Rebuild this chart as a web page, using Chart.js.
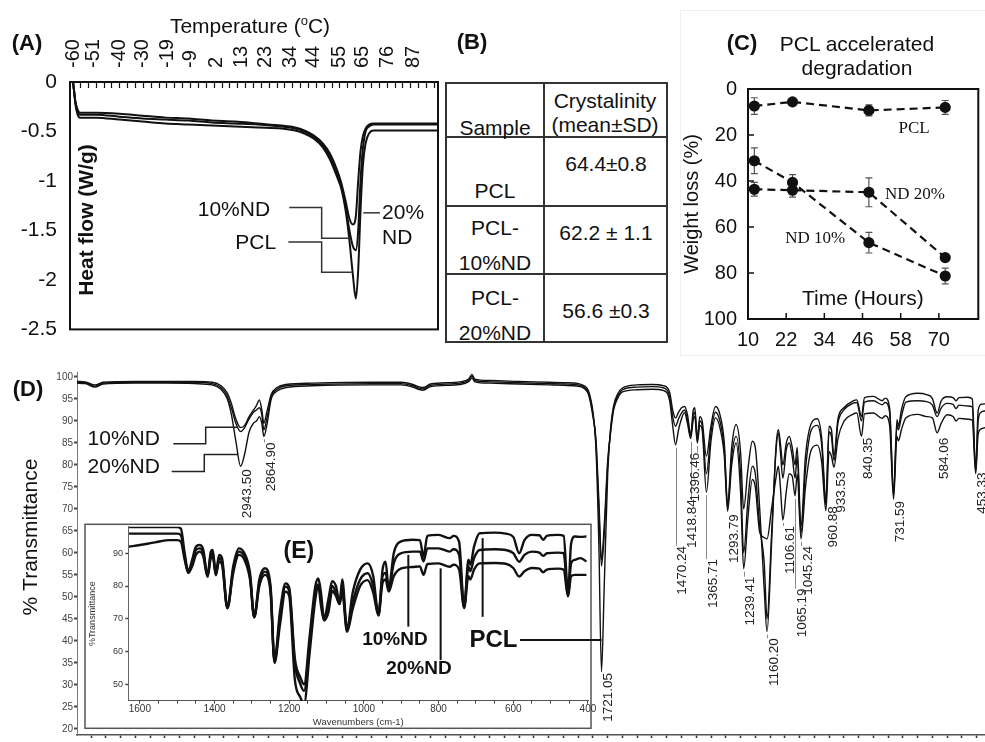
<!DOCTYPE html>
<html>
<head>
<meta charset="utf-8">
<title>PCL / ND characterisation</title>
<script src="https://cdn.jsdelivr.net/npm/chart.js@4.4.1/dist/chart.umd.min.js"></script>
<style>
  html, body { margin: 0; padding: 0; background: #fff; }
  body { position: relative; width: 985px; height: 742px; overflow: hidden;
         font-family: "Liberation Sans", Arial, sans-serif; color: #111; }
  canvas { position: absolute; }
  .lbl { position: absolute; white-space: nowrap; line-height: 1; transform: translate(-50%, -50%); }
  .rule { position: absolute; background: #333; }
</style>
</head>
<body>
<div style="position:absolute;left:680px;top:10px;width:304px;height:344px;border:1px solid #f0f0f0;"></div>
<canvas id="chartA" width="445" height="355" style="left:0;top:0"></canvas>
<canvas id="chartC" width="305" height="356" style="left:680px;top:0"></canvas>
<canvas id="chartD" width="985" height="386" style="left:0;top:356px"></canvas>
<canvas id="chartE" width="530" height="225" style="left:80px;top:515px"></canvas>
<script>
// (A) DSC heat flow
const tempC     = [-60, -59.5, -59, -58, -57, -55, -50, -40, -30, -20, -10, 0, 10, 20, 30, 36, 40, 44, 48, 51, 54, 56, 58, 59.5, 61, 62.3, 63.3, 64.3, 65.3, 66.5, 68, 70, 75, 85, 97.8];
const flowPCL   = [0, -0.1, -0.22, -0.33, -0.36, -0.36, -0.36, -0.38, -0.40, -0.42, -0.43, -0.44, -0.45, -0.46, -0.47, -0.49, -0.52, -0.57, -0.66, -0.78, -0.95, -1.08, -1.32, -1.6, -1.95, -2.19, -1.9, -1.3, -0.85, -0.62, -0.52, -0.49, -0.49, -0.49, -0.49];
const flowND10  = [0, -0.1, -0.2, -0.3, -0.33, -0.33, -0.33, -0.35, -0.37, -0.38, -0.39, -0.41, -0.42, -0.43, -0.45, -0.47, -0.50, -0.55, -0.64, -0.75, -0.92, -1.05, -1.28, -1.5, -1.66, -1.70, -1.5, -1.0, -0.68, -0.5, -0.45, -0.43, -0.43, -0.43, -0.43];
const flowND20  = [0, -0.1, -0.19, -0.28, -0.31, -0.31, -0.31, -0.32, -0.34, -0.36, -0.37, -0.39, -0.40, -0.42, -0.44, -0.46, -0.49, -0.54, -0.62, -0.72, -0.88, -1.02, -1.22, -1.38, -1.44, -1.35, -1.0, -0.7, -0.55, -0.47, -0.43, -0.42, -0.42, -0.42, -0.42];
const tempTicks = [-60, -51, -40, -30, -19, -9, 2, 13, 23, 34, 44, 55, 65, 76, 87];
const flowTicks = [0, -0.5, -1, -1.5, -2, -2.5];

// (B) crystallinity table
const samples     = [["PCL"], ["PCL-", "10%ND"], ["PCL-", "20%ND"]];
const crystalText = ["64.4\u00b10.8", "62.2 \u00b1 1.1", "56.6 \u00b10.3"];

// (C) accelerated degradation
const hours     = [12, 24, 48, 72];
const lossPCL   = [7.4, 5.6, 9.3, 8.0];
const errPCL    = [3.6, 1.0, 2.4, 3.0];
const lossND10  = [31.2, 40.6, 66.8, 81.3];
const errND10   = [5.6, 3.4, 4.5, 3.4];
const lossND20  = [43.6, 44.0, 44.9, 73.3];
const errND20   = [3.0, 3.0, 6.3, 1.2];
const hourTicks = [10, 22, 34, 46, 58, 70];
const lossTicks = [0, 20, 40, 60, 80, 100];

// (D) FTIR full range
const dWave = [3498, 3470, 3437, 3410, 3300, 3200, 3100, 3040, 3010, 2990,
  2975, 2960, 2943.5, 2930, 2915, 2900, 2890, 2880, 2872, 2864.9,
  2855, 2840, 2820, 2790, 2700, 2500, 2400, 2360, 2340, 2326,
  2300, 2200, 2170, 2160, 2150, 2100, 2000, 1900, 1850, 1800,
  1780, 1765, 1750, 1740, 1730, 1721.05, 1712, 1700, 1690, 1680,
  1665, 1650, 1600, 1550, 1510, 1490, 1480, 1470.24, 1460, 1450,
  1440, 1430, 1418.84, 1410, 1405, 1396.46, 1388, 1380, 1365.71, 1350,
  1335, 1320, 1305, 1293.79, 1280, 1265, 1250, 1239.41, 1225, 1210,
  1200, 1185, 1170, 1160.2, 1145, 1130, 1122, 1115, 1106.61, 1095,
  1085, 1075, 1065.19, 1058, 1045.24, 1030, 1010, 990, 975, 960.88,
  950, 942, 933.53, 920, 900, 870, 856, 840.35, 830, 800,
  770, 760, 745, 731.59, 720, 715, 705, 690, 650, 620,
  600, 584.06, 570, 550, 530, 520, 510, 480, 465, 453.33,
  445, 435, 420];
const dPCL = [99.0, 98.9, 98.2, 98.8, 99.0, 99.0, 99.0, 98.8, 98.0, 96.5,
  94.0, 90.5, 88.5, 89.0, 91.0, 92.5, 93.5, 94.8, 92.5, 89.5,
  92.0, 96.0, 97.6, 98.3, 98.6, 98.8, 98.8, 98.3, 97.8, 97.6,
  98.4, 98.9, 99.6, 100.6, 99.5, 99.2, 99.0, 98.8, 98.7, 98.5,
  98.0, 96.8, 92.0, 84.0, 62.0, 33.0, 52.0, 78.0, 88.5, 93.5,
  96.3, 97.5, 98.2, 98.3, 98.0, 96.5, 92.5, 90.7, 92.0, 93.0,
  93.3, 91.5, 87.0, 92.5, 93.0, 86.0, 91.0, 90.0, 82.0, 89.0,
  93.3, 91.5, 85.0, 71.0, 84.0, 89.2, 83.0, 70.0, 79.0, 85.4,
  84.0, 70.0, 52.0, 42.1, 62.0, 84.0, 88.0, 85.0, 80.0, 85.0,
  86.5, 84.0, 80.0, 84.0, 66.0, 82.0, 89.5, 90.5, 86.0, 72.0,
  88.8, 88.0, 82.0, 90.5, 93.0, 94.5, 94.8, 91.0, 95.3, 95.6,
  94.6, 95.2, 93.0, 74.0, 90.3, 88.8, 92.5, 95.5, 96.3, 96.0,
  95.1, 91.8, 94.6, 95.5, 95.3, 94.6, 95.3, 95.4, 95.0, 79.0,
  92.3, 93.8, 93.9];
const dND10 = [98.8, 98.7, 97.9, 98.6, 98.8, 98.8, 98.8, 98.5, 97.6, 95.8,
  93.0, 89.5, 87.6, 88.5, 90.5, 92.0, 92.5, 93.0, 91.5, 88.0,
  90.5, 95.5, 97.2, 98.0, 98.3, 98.5, 98.5, 98.0, 97.5, 97.3,
  98.1, 98.6, 99.3, 100.2, 99.2, 98.9, 98.7, 98.5, 98.4, 98.2,
  97.7, 96.4, 91.5, 85.0, 70.0, 57.0, 64.0, 80.0, 88.0, 93.0,
  95.8, 97.1, 97.7, 97.8, 97.5, 95.5, 91.0, 88.8, 90.5, 91.8,
  92.5, 90.5, 86.5, 91.5, 92.0, 85.5, 90.0, 89.0, 78.0, 87.5,
  92.0, 90.0, 83.5, 70.3, 82.0, 86.5, 78.0, 60.0, 72.0, 79.7,
  78.0, 66.0, 58.0, 45.0, 64.0, 83.0, 87.3, 83.0, 77.0, 83.5,
  85.0, 82.0, 77.0, 82.0, 64.5, 79.0, 88.0, 89.0, 84.5, 71.0,
  87.5, 86.5, 81.0, 89.5, 92.5, 94.0, 94.2, 90.0, 94.3, 94.6,
  93.7, 94.2, 92.0, 73.0, 89.0, 88.0, 91.0, 94.3, 94.6, 94.4,
  93.6, 91.0, 93.0, 94.0, 93.8, 92.8, 93.6, 93.4, 93.2, 78.5,
  90.0, 92.0, 92.3];
const dND20 = [98.6, 98.5, 97.7, 98.4, 98.6, 98.6, 98.5, 98.2, 97.2, 95.2,
  91.5, 85.5, 79.7, 82.5, 87.5, 89.5, 90.0, 91.0, 89.5, 86.5,
  89.0, 95.0, 96.8, 97.6, 98.0, 98.2, 98.2, 97.7, 97.2, 97.0,
  97.8, 98.3, 99.0, 99.8, 98.9, 98.6, 98.4, 98.2, 98.1, 97.9,
  97.4, 96.0, 91.0, 86.0, 72.0, 58.5, 66.0, 81.0, 87.5, 92.5,
  95.3, 96.6, 97.1, 97.2, 96.9, 94.5, 89.0, 84.6, 88.0, 90.5,
  91.9, 89.5, 86.0, 90.5, 91.0, 85.0, 89.0, 88.0, 73.8, 85.5,
  90.7, 88.5, 82.0, 69.5, 80.0, 85.0, 74.0, 56.4, 68.0, 76.7,
  75.0, 64.7, 63.5, 63.2, 70.0, 77.0, 79.7, 75.0, 67.5, 74.0,
  78.0, 77.5, 73.0, 78.0, 63.2, 75.0, 83.5, 84.5, 80.5, 69.6,
  83.0, 82.0, 79.5, 86.0, 89.9, 91.5, 91.8, 86.5, 91.6, 91.8,
  90.6, 91.2, 89.0, 72.2, 86.5, 85.5, 88.0, 90.7, 91.5, 91.0,
  90.7, 87.3, 89.5, 91.4, 91.0, 90.0, 90.6, 90.4, 90.2, 78.0,
  87.0, 88.2, 88.5];
const peakWave  = [2943.5, 2864.9, 1721.05, 1470.24, 1418.84, 1396.46, 1365.71, 1293.79, 1239.41, 1160.2, 1106.61, 1065.19, 1045.24, 960.88, 933.53, 840.35, 731.59, 584.06, 453.33];
const peakText  = ["2943.50", "2864.90", "1721.05", "1470.24", "1418.84", "1396.46", "1365.71", "1293.79", "1239.41", "1160.20", "1106.61", "1065.19", "1045.24", "960.88", "933.53", "840.35", "731.59", "584.06", "453.33"];
const peakLabelAt = [79.0, 85.1, 32.7, 61.6, 72.2, 82.8, 58.6, 68.8, 54.6, 40.6, 66.1, 51.9, 61.6, 70.6, 78.5, 86.2, 71.8, 86.2, 78.3];

// (E) FTIR fingerprint region (inset)
const eWave = [1629, 1600, 1560, 1520, 1500, 1490, 1480, 1470.24, 1460, 1450,
  1440, 1430, 1418.84, 1410, 1405, 1396.46, 1388, 1380, 1365.71, 1350,
  1335, 1320, 1305, 1293.79, 1280, 1265, 1250, 1239.41, 1225, 1210,
  1200, 1185, 1170, 1160.2, 1145, 1130, 1122, 1115, 1106.61, 1095,
  1085, 1075, 1065.19, 1058, 1045.24, 1030, 1010, 990, 975, 960.88,
  950, 942, 933.53, 920, 900, 870, 850, 840.35, 830, 800,
  770, 760, 745, 731.59, 720, 715, 705, 690, 650, 620,
  600, 584.06, 570, 550, 530, 520, 510, 480, 465, 453.33,
  445, 435, 420, 404];
const ePCL = [98, 98, 98, 98, 98, 97.5, 90, 84.5, 88, 92,
  92.5, 91, 83, 90.5, 91, 83.5, 89.5, 88.5, 73.5, 86,
  91.5, 90, 84, 70.6, 82, 85.4, 80, 57, 72, 80.8,
  79.5, 58, 52, 50, 65, 80, 82.3, 78, 70, 76,
  81.5, 80, 75, 82, 67, 78, 85, 86.9, 83, 71.5,
  85, 87.4, 79.3, 90, 93.6, 94.1, 94, 89, 95.3, 95.6,
  94.6, 95.3, 93.5, 73.7, 88, 86.5, 92, 96.1, 96.3, 96,
  95, 90, 94, 95.6, 95.5, 94.1, 95.3, 95.6, 95.3, 78,
  93, 95.1, 95, 95.1];
const eND10 = [96, 96, 96, 96, 96, 95.5, 89, 84, 87, 91,
  91.5, 90, 83, 89.5, 90, 83.5, 88.5, 87.5, 73.3, 85,
  90.5, 89, 83, 70.6, 81, 84.4, 79, 57, 70, 79.8,
  78.5, 56.5, 50, 48, 63, 78, 80.5, 76, 69.5, 74,
  80, 78, 74.5, 80, 66.5, 75, 82, 83.9, 80, 71.2,
  83, 84, 78.8, 87, 90, 90.5, 90.5, 87.5, 91.5, 91.5,
  90.5, 91.2, 89.5, 73.5, 86, 84.5, 88.5, 91, 91.2, 91,
  90, 87.4, 89.5, 90.5, 90.2, 89.2, 90, 90.2, 90, 77.2,
  87, 88, 88.5, 87.5];
const eND20 = [92, 92.5, 93.3, 94, 94, 93.5, 88, 84, 86, 89.5,
  90.5, 89, 82.8, 88.5, 89, 83.3, 87.5, 86.5, 73.2, 84,
  89.5, 88, 82, 70.4, 80, 83.4, 78, 56.5, 68, 78.3,
  77, 51.5, 46, 44, 60, 76, 79.8, 74, 69.5, 72,
  78.5, 77, 74.5, 78, 66, 73, 80, 81.8, 78, 71,
  81, 82, 78.3, 83, 85.4, 85.8, 86, 83.4, 86.7, 86.9,
  85.9, 86.5, 85, 73.3, 83, 82, 85, 86.9, 87, 86.8,
  85.5, 82.9, 84.5, 85.5, 85.3, 84.2, 85, 85.3, 85, 76.8,
  83, 83.4, 83.4, 83.4];

const SANS = '"Liberation Sans", Arial, sans-serif';
const SERIF = '"Liberation Serif", "Times New Roman", serif';
Chart.defaults.font.family = SANS;
Chart.defaults.color = '#111';
Chart.defaults.animation = false;
Chart.defaults.responsive = false;
Chart.defaults.plugins.legend.display = false;
Chart.defaults.plugins.tooltip.enabled = false;

function xy(xs, ys) { return xs.map((x, i) => ({ x: x, y: ys[i] })); }

function label(html, x, y, css) {
  const d = document.createElement('div');
  d.className = 'lbl';
  d.innerHTML = html;
  d.style.left = x + 'px';
  d.style.top = y + 'px';
  Object.assign(d.style, css || {});
  document.body.appendChild(d);
}

function rule(x, y, w, h) {
  const d = document.createElement('div');
  d.className = 'rule';
  Object.assign(d.style, { left: x + 'px', top: y + 'px', width: w + 'px', height: h + 'px' });
  document.body.appendChild(d);
}

function polyline(ctx, xs, ys, pts) {
  ctx.beginPath();
  pts.forEach(([a, b], i) => {
    const px = xs.getPixelForValue(a), py = ys.getPixelForValue(b);
    if (i) ctx.lineTo(px, py); else ctx.moveTo(px, py);
  });
  ctx.stroke();
}

function textAt(ctx, xs, ys, str, a, b, align) {
  ctx.textAlign = align || 'center';
  ctx.fillText(str, xs.getPixelForValue(a), ys.getPixelForValue(b));
}

// ---------------- panel labels / titles ----------------
label('(A)', 27, 43, { fontWeight: 'bold', fontSize: '22px' });
label('Temperature (<sup style="font-size:13px">o</sup>C)', 250, 25, { fontSize: '21px' });
label('(B)', 472, 42, { fontWeight: 'bold', fontSize: '22px' });
label('(C)', 742, 43, { fontWeight: 'bold', fontSize: '22px' });
label('PCL accelerated', 857, 43, { fontSize: '21px' });
label('degradation', 857, 67, { fontSize: '21px' });
label('(D)', 28, 389, { fontWeight: 'bold', fontSize: '22px' });

// ---------------- (B) table ----------------
rule(445, 82, 223, 2); rule(445, 341, 223, 2);
rule(445, 82, 2, 261); rule(666, 82, 2, 261);
rule(543, 82, 2, 261);
rule(445, 136, 223, 2); rule(445, 205, 223, 2); rule(445, 273, 223, 2);
const tblFont = { fontSize: '21px' };
label('Sample', 495, 127, tblFont);
label('Crystalinity', 605, 100, tblFont);
label('(mean\u00b1SD)', 605, 124, tblFont);
const rowFirst = [190, 227, 297];
const rowSecond = [null, 262, 332];
const rowValue = [163, 232, 310];
samples.forEach((s, i) => {
  label(s[0], 495, rowFirst[i], tblFont);
  if (s[1]) label(s[1], 495, rowSecond[i], tblFont);
  label(crystalText[i], 606, rowValue[i], tblFont);
});

// ---------------- (A) DSC chart ----------------
const dscDecor = {
  id: 'dscDecor',
  afterDatasetsDraw(chart) {
    const { ctx, chartArea: a, scales: { x, y } } = chart;
    ctx.save();
    ctx.strokeStyle = '#111';
    ctx.lineWidth = 2;
    ctx.strokeRect(a.left, a.top, a.right - a.left, a.bottom - a.top);
    // small tick marks hanging from the top axis
    ctx.lineWidth = 1.2;
    ctx.beginPath();
    for (let v = -57; v < 97; v += 3.4) {
      const px = Math.round(x.getPixelForValue(v)) + 0.5;
      ctx.moveTo(px, a.top);
      ctx.lineTo(px, a.top + 6);
    }
    ctx.stroke();
    // rotated temperature labels above the plot
    ctx.fillStyle = '#111';
    ctx.font = '20px ' + SANS;
    ctx.textBaseline = 'middle';
    tempTicks.forEach(v => {
      ctx.save();
      ctx.translate(x.getPixelForValue(v), a.top - 14);
      ctx.rotate(-Math.PI / 2);
      ctx.textAlign = 'left';
      ctx.fillText(String(v), 0, 0);
      ctx.restore();
    });
    // y title sits inside the plot
    ctx.save();
    ctx.translate(87, 220);
    ctx.rotate(-Math.PI / 2);
    ctx.textAlign = 'center';
    ctx.font = 'bold 21px ' + SANS;
    ctx.fillText('Heat flow (W/g)', 0, 0);
    ctx.restore();
    // leader lines to the melting peaks
    ctx.strokeStyle = '#333';
    ctx.lineWidth = 1.5;
    polyline(ctx, x, y, [[33.5, -1.267], [47.5, -1.267], [47.5, -1.578], [59.8, -1.578]]);
    polyline(ctx, x, y, [[33.1, -1.616], [47.5, -1.616], [47.5, -1.922], [60.5, -1.922]]);
    polyline(ctx, x, y, [[65.5, -1.322], [72.7, -1.322]]);
    ctx.font = '21px ' + SANS;
    textAt(ctx, x, y, '10%ND', 25.2, -1.293, 'right');
    textAt(ctx, x, y, 'PCL', 27.8, -1.628, 'right');
    textAt(ctx, x, y, '20%', 73.6, -1.322, 'left');
    textAt(ctx, x, y, 'ND', 73.6, -1.58, 'left');
    ctx.restore();
  }
};

const dscLine = { borderColor: '#111', borderWidth: 2, pointRadius: 0, cubicInterpolationMode: 'monotone', fill: false };
new Chart(document.getElementById('chartA'), {
  type: 'line',
  data: {
    datasets: [
      Object.assign({ data: xy(tempC, flowPCL) }, dscLine),
      Object.assign({ data: xy(tempC, flowND10) }, dscLine),
      Object.assign({ data: xy(tempC, flowND20) }, dscLine)
    ]
  },
  options: {
    layout: { padding: { left: 0, right: 7, top: 0, bottom: 12 } },
    scales: {
      x: {
        type: 'linear', position: 'top', min: -61.3, max: 97.8,
        afterBuildTicks: s => { s.ticks = tempTicks.map(v => ({ value: v })); },
        afterFit: s => { s.height = 82; },
        grid: { display: false, drawTicks: false },
        border: { display: false },
        ticks: { display: false }
      },
      y: {
        min: -2.5, max: 0,
        afterBuildTicks: s => { s.ticks = flowTicks.map(v => ({ value: v })); },
        afterFit: s => { s.width = 70; },
        grid: { display: false, drawTicks: false },
        border: { display: false },
        ticks: { padding: 13, font: { size: 21 }, color: '#111', callback: v => String(v) }
      }
    }
  },
  plugins: [dscDecor]
});

// ---------------- (C) degradation chart ----------------
const errSets = [errPCL, errND10, errND20];
const degDecor = {
  id: 'degDecor',
  beforeDatasetsDraw(chart) {
    const { ctx, scales: { x, y } } = chart;
    ctx.save();
    ctx.strokeStyle = '#555';
    ctx.lineWidth = 1.2;
    chart.data.datasets.forEach((ds, i) => {
      ds.data.forEach((p, j) => {
        const px = x.getPixelForValue(p.x);
        const y1 = y.getPixelForValue(p.y - errSets[i][j]);
        const y2 = y.getPixelForValue(p.y + errSets[i][j]);
        ctx.beginPath();
        ctx.moveTo(px, y1); ctx.lineTo(px, y2);
        ctx.moveTo(px - 3.5, y1); ctx.lineTo(px + 3.5, y1);
        ctx.moveTo(px - 3.5, y2); ctx.lineTo(px + 3.5, y2);
        ctx.stroke();
      });
    });
    ctx.restore();
  },
  afterDatasetsDraw(chart) {
    const { ctx, chartArea: a, scales: { x, y } } = chart;
    ctx.save();
    ctx.strokeStyle = '#111';
    ctx.lineWidth = 2;
    ctx.strokeRect(a.left, a.top, a.right - a.left, a.bottom - a.top);
    ctx.lineWidth = 1.5;
    ctx.beginPath();
    lossTicks.slice(1, -1).forEach(v => {
      const py = y.getPixelForValue(v);
      ctx.moveTo(a.left, py); ctx.lineTo(a.left + 6, py);
    });
    hourTicks.slice(1).forEach(v => {
      const px = x.getPixelForValue(v);
      ctx.moveTo(px, a.bottom); ctx.lineTo(px, a.bottom - 6);
    });
    ctx.stroke();
    ctx.fillStyle = '#111';
    ctx.textBaseline = 'middle';
    ctx.font = '17px ' + SERIF;
    textAt(ctx, x, y, 'PCL', 62.2, 17.0);
    textAt(ctx, x, y, 'ND 20%', 62.5, 46.1);
    textAt(ctx, x, y, 'ND 10%', 31.1, 65.2);
    ctx.font = '21px ' + SANS;
    textAt(ctx, x, y, 'Time (Hours)', 46.1, 91.3);
    ctx.restore();
  }
};
const degLine = { borderColor: '#111', borderWidth: 2.2, borderDash: [8, 5], pointRadius: 4.5, pointBackgroundColor: '#111', pointBorderColor: '#111', tension: 0, fill: false };
new Chart(document.getElementById('chartC'), {
  type: 'line',
  data: {
    datasets: [
      Object.assign({ data: xy(hours, lossPCL) }, degLine),
      Object.assign({ data: xy(hours, lossND10) }, degLine),
      Object.assign({ data: xy(hours, lossND20) }, degLine)
    ]
  },
  options: {
    layout: { padding: { left: 0, right: 3, top: 89, bottom: 0 } },
    scales: {
      x: {
        type: 'linear', min: 10, max: 82.4,
        afterBuildTicks: s => { s.ticks = hourTicks.map(v => ({ value: v })); },
        afterFit: s => { s.height = 37; },
        grid: { display: false, drawTicks: false },
        border: { display: false },
        ticks: { padding: 9, font: { size: 20 }, color: '#111', autoSkip: false, maxRotation: 0 }
      },
      y: {
        reverse: true, min: 0, max: 100,
        afterBuildTicks: s => { s.ticks = lossTicks.map(v => ({ value: v })); },
        afterFit: s => { s.width = 68; },
        grid: { display: false, drawTicks: false },
        border: { display: false },
        ticks: { padding: 11, font: { size: 20 }, color: '#111' },
        title: { display: true, text: 'Weight loss (%)', font: { size: 20 }, color: '#111', padding: { top: 0, bottom: 0 } }
      }
    }
  },
  plugins: [degDecor]
});

// ---------------- (D) FTIR chart ----------------
const peakShift = { 1418.84: 2, 1396.46: -2.5 };
const ftirDecor = {
  id: 'ftirDecor',
  afterDatasetsDraw(chart) {
    const { ctx, scales: { x, y } } = chart;
    ctx.save();
    // peak labels with thin leaders
    ctx.font = '13.5px ' + SANS;
    ctx.fillStyle = '#222';
    ctx.strokeStyle = '#8a8a8a';
    ctx.lineWidth = 1;
    peakWave.forEach((w, i) => {
      const k = dWave.indexOf(w);
      const low = Math.min(dPCL[k], dND10[k], dND20[k]);
      const px = x.getPixelForValue(w);
      const yPeak = y.getPixelForValue(low) + 3;
      const yTop = y.getPixelForValue(peakLabelAt[i]);
      if (yTop - yPeak > 2) {
        ctx.beginPath();
        ctx.moveTo(Math.round(px) + 0.5, yPeak);
        ctx.lineTo(Math.round(px) + 0.5, yTop);
        ctx.stroke();
      }
      const dx = peakShift[w] !== undefined ? peakShift[w] : 7;
      ctx.save();
      ctx.translate(px + dx, yTop);
      ctx.rotate(-Math.PI / 2);
      ctx.textAlign = 'right';
      ctx.textBaseline = 'middle';
      ctx.fillText(peakText[i], 0, 0);
      ctx.restore();
    });
    // sample call-outs at the C-H stretch
    ctx.strokeStyle = '#222';
    ctx.lineWidth = 1.5;
    polyline(ctx, x, y, [[3171.8, 84.8], [3062, 84.8], [3062, 88.6], [2951.6, 88.6]]);
    polyline(ctx, x, y, [[3177.2, 78.5], [3066.8, 78.5], [3066.8, 82.4], [2952.6, 82.4]]);
    ctx.fillStyle = '#111';
    ctx.font = '21px ' + SANS;
    ctx.textBaseline = 'middle';
    textAt(ctx, x, y, '10%ND', 3217, 85.8, 'right');
    textAt(ctx, x, y, '20%ND', 3217, 79.4, 'right');
    // y title
    ctx.save();
    ctx.translate(31, 181);
    ctx.rotate(-Math.PI / 2);
    ctx.textAlign = 'center';
    ctx.fillText('% Transmittance', 0, 0);
    ctx.restore();
    ctx.restore();
  }
};
const ftirLine = { borderColor: '#111', borderWidth: 1.4, pointRadius: 0, cubicInterpolationMode: 'monotone', fill: false };
const chartD = new Chart(document.getElementById('chartD'), {
  type: 'line',
  data: {
    datasets: [
      Object.assign({ data: xy(dWave, dPCL) }, ftirLine),
      Object.assign({ data: xy(dWave, dND10) }, ftirLine),
      Object.assign({ data: xy(dWave, dND20) }, ftirLine)
    ]
  },
  options: {
    layout: { padding: { left: 0, right: 0, top: 16.6, bottom: 0 } },
    scales: {
      x: {
        type: 'linear', reverse: true, min: 421.8, max: 3498,
        afterBuildTicks: s => {
          const t = [];
          for (let v = 450; v <= 3450; v += 50) t.push({ value: v });
          s.ticks = t;
        },
        afterFit: s => { s.height = 5; },
        grid: { display: true, drawOnChartArea: false, drawTicks: true, tickLength: 3, tickWidth: 1.5, tickColor: '#333' },
        border: { display: true, color: '#555', width: 1.5, dash: [1, 3] },
        ticks: { display: false }
      },
      y: {
        min: 18.6, max: 101,
        afterBuildTicks: s => {
          const t = [];
          for (let v = 20; v <= 100; v += 5) t.push({ value: v });
          s.ticks = t;
        },
        afterFit: s => { s.width = 77; },
        grid: { display: true, drawOnChartArea: false, drawTicks: true, tickLength: 3, tickWidth: 2, tickColor: '#444' },
        border: { display: true, color: '#777', width: 1, dash: [1, 2] },
        ticks: { padding: 1, font: { size: 10 }, color: '#444', autoSkip: false }
      }
    }
  },
  plugins: [ftirDecor]
});

// ---------------- (E) inset chart ----------------
const insetDecor = {
  id: 'insetDecor',
  beforeDraw(chart) {
    const { ctx } = chart;
    ctx.save();
    ctx.fillStyle = '#fff';
    ctx.fillRect(5, 9.3, 506, 204);
    ctx.strokeStyle = '#555';
    ctx.lineWidth = 1.5;
    ctx.strokeRect(5, 9.3, 506, 204);
    ctx.restore();
  },
  afterDatasetsDraw(chart) {
    const { ctx, scales: { x, y } } = chart;
    ctx.save();
    ctx.strokeStyle = '#111';
    ctx.lineWidth = 2;
    polyline(ctx, x, y, [[881, 89.5], [881, 67.6]]);
    polyline(ctx, x, y, [[794.5, 85.4], [794.5, 57.4]]);
    polyline(ctx, x, y, [[682, 94.6], [682, 70.6]]);
    // PCL call-out runs out of the inset to the carbonyl peak of (D)
    const yLine = y.getPixelForValue(63.5);
    const xEnd = chartD.scales.x.getPixelForValue(1721.05) - 80;
    ctx.beginPath();
    ctx.moveTo(x.getPixelForValue(582), yLine);
    ctx.lineTo(xEnd, yLine);
    ctx.stroke();
    ctx.fillStyle = '#111';
    ctx.textBaseline = 'middle';
    ctx.font = 'bold 19px ' + SANS;
    textAt(ctx, x, y, '10%ND', 917, 63.5);
    textAt(ctx, x, y, '20%ND', 852.6, 54.7);
    ctx.font = 'bold 24px ' + SANS;
    textAt(ctx, x, y, 'PCL', 653, 63.5);
    ctx.font = 'bold 23px ' + SANS;
    textAt(ctx, x, y, '(E)', 1174, 90.4);
    ctx.restore();
  }
};
const insetLine = { borderColor: '#111', borderWidth: 2.4, pointRadius: 0, cubicInterpolationMode: 'monotone', fill: false };
new Chart(document.getElementById('chartE'), {
  type: 'line',
  data: {
    datasets: [
      Object.assign({ data: xy(eWave, ePCL) }, insetLine),
      Object.assign({ data: xy(eWave, eND10) }, insetLine),
      Object.assign({ data: xy(eWave, eND20) }, insetLine)
    ]
  },
  options: {
    layout: { padding: { left: 0, right: 21.7, top: 11.7, bottom: 11.6 } },
    scales: {
      x: {
        type: 'linear', reverse: true, min: 399, max: 1631,
        afterBuildTicks: s => {
          const t = [];
          for (let v = 400; v <= 1600; v += 50) t.push({ value: v });
          s.ticks = t;
        },
        afterFit: s => { s.height = 27.7; },
        grid: { display: true, drawOnChartArea: false, drawTicks: true, tickLength: 3, tickColor: '#444' },
        border: { display: true, color: '#555', width: 1 },
        ticks: { autoSkip: false, maxRotation: 0, padding: 0, font: { size: 10 }, color: '#333',
                 callback: v => (v % 200 === 0 ? String(v) : '') },
        title: { display: true, text: 'Wavenumbers (cm-1)', font: { size: 9.5 }, color: '#333', padding: { top: 0, bottom: 0.3 } }
      },
      y: {
        min: 45, max: 98.1,
        afterBuildTicks: s => { s.ticks = [50, 60, 70, 80, 90].map(v => ({ value: v })); },
        afterFit: s => { s.width = 48.3; },
        grid: { display: true, drawOnChartArea: false, drawTicks: true, tickLength: 3, tickWidth: 1.5, tickColor: '#444' },
        border: { display: true, color: '#666', width: 1, dash: [1, 2] },
        ticks: { padding: 2.3, font: { size: 9 }, color: '#333' },
        title: { display: true, text: '%Transmittance', font: { size: 9 }, color: '#333', padding: { top: 7.3, bottom: 0 } }
      }
    }
  },
  plugins: [insetDecor]
});
</script>
</body>
</html>
